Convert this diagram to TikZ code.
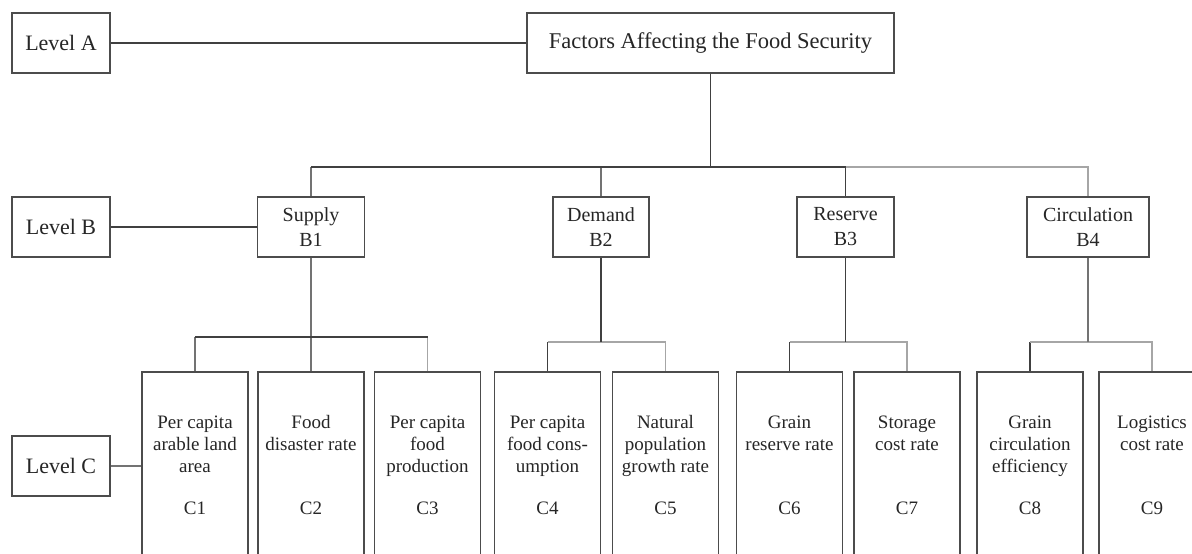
\documentclass[tikz,border=0pt]{standalone}
\usepackage{fontspec}
\setmainfont{Liberation Serif}
\begin{document}
\begin{tikzpicture}[x=1pt,y=-1pt,
  box/.style={draw=black!70, line width=1.6pt, fill=white, inner sep=0pt, text=black!85},
  lvl/.style={box, minimum width=98pt, minimum height=60pt, font=\fontsize{22}{26}\selectfont},
  bbox/.style={box, minimum height=60pt, align=center, font=\fontsize{20}{25}\selectfont},
  cbox/.style={box, minimum width=106pt, minimum height=188pt},
  ctext/.style={anchor=north, align=center, inner sep=0pt, font=\fontsize{19}{22}\selectfont, text=black!85},
  cid/.style={inner sep=0pt, font=\fontsize{19}{22}\selectfont, text=black!85},
  lnD/.style={draw=black!75, line width=1.8pt},
  lnM/.style={draw=black!55, line width=1.8pt},
  lnL/.style={draw=black!35, line width=1.8pt}]
\useasboundingbox (0,0) rectangle (1192,554);
\fill[white] (0,0) rectangle (1192,554);
\clip (0,0) rectangle (1192,554);

% level labels
\node[lvl] (la) at (61,43) {Level A};
\node[lvl] (lb) at (61,227) {Level B};
\node[lvl] (lc) at (61,466) {Level C};

% goal
\node[box, minimum width=367pt, minimum height=60pt, font=\fontsize{22.5}{27}\selectfont] (title) at (710.5,43) {Factors Affecting the Food Security};

% criteria
\node[bbox, minimum width=107pt] (b1) at (311,227) {Supply\\B1};
\node[bbox, minimum width=96pt] (b2) at (601,227) {Demand\\B2};
\node[bbox, minimum width=97pt] (b3) at (845.5,227) {Reserve\\B3};
\node[bbox, minimum width=122pt] (b4) at (1088,227) {Circulation\\B4};

% indicator boxes
\node[cbox] (c1) at (195,466) {};
\node[cbox] (c2) at (311,466) {};
\node[cbox] (c3) at (427.5,466) {};
\node[cbox] (c4) at (547.5,466) {};
\node[cbox] (c5) at (665.5,466) {};
\node[cbox] (c6) at (789.5,466) {};
\node[cbox] (c7) at (907,466) {};
\node[cbox] (c8) at (1030,466) {};
\node[cbox] (c9) at (1152,466) {};

\node[ctext] (c1t) at (195,412.6) {\strut Per capita\\arable land\\area};
\node[ctext] (c2t) at (311,412.6) {\strut Food\\disaster rate};
\node[ctext] (c3t) at (427.5,412.6) {\strut Per capita\\food\\production};
\node[ctext] (c4t) at (547.5,412.6) {\strut Per capita\\food cons-\\umption};
\node[ctext] (c5t) at (665.5,412.6) {\strut Natural\\population\\growth rate};
\node[ctext] (c6t) at (789.5,412.6) {\strut Grain\\reserve rate};
\node[ctext] (c7t) at (907,412.6) {\strut Storage\\cost rate};
\node[ctext] (c8t) at (1030,412.6) {\strut Grain\\circulation\\efficiency};
\node[ctext] (c9t) at (1152,412.6) {\strut Logistics\\cost rate};

\node[cid] (c1i) at (195,508) {C1};
\node[cid] (c2i) at (311,508) {C2};
\node[cid] (c3i) at (427.5,508) {C3};
\node[cid] (c4i) at (547.5,508) {C4};
\node[cid] (c5i) at (665.5,508) {C5};
\node[cid] (c6i) at (789.5,508) {C6};
\node[cid] (c7i) at (907,508) {C7};
\node[cid] (c8i) at (1030,508) {C8};
\node[cid] (c9i) at (1152,508) {C9};

% connectors
\coordinate (bus) at (0,167);
\coordinate (subA) at (0,337);
\coordinate (subB) at (0,342);

\draw[lnD] (la) -- (title);
\draw[lnD] (lb) -- (b1);
\draw[lnM] (lc) -- (c1);

\draw[lnD] (title.south) -- (title.south |- bus);
\draw[lnM] (b1.north |- bus) -- (b1.north);
\draw[lnM] (b2.north |- bus) -- (b2.north);
\draw[lnD] (b3.north |- bus) -- (b3.north);
\draw[lnL] (b3.north |- bus) -- (b4.north |- bus) -- (b4.north);
\draw[lnD] (b1.north |- bus) -- (b3.north |- bus);

% supply group
\draw[lnM] (b1) -- (c2);
\draw[lnM] (c1.north) -- (c1.north |- subA);
\draw[lnL] (c3.north) -- (c3.north |- subA);
\draw[lnD] (c1.north |- subA) -- (c3.north |- subA);

% demand group
\draw[lnD] (c4.north) -- (c4.north |- subB);
\draw[lnL] (c4.north |- subB) -- (c5.north |- subB) -- (c5.north);
\draw[lnD] (b2.south) -- (b2.south |- subB);

% reserve group
\draw[lnD] (c6.north) -- (c6.north |- subB);
\draw[lnL] (c6.north |- subB) -- (c7.north |- subB) -- (c7.north);
\draw[lnD] (b3.south) -- (b3.south |- subB);

% circulation group
\draw[lnD] (c8.north) -- (c8.north |- subB);
\draw[lnL] (c8.north |- subB) -- (c9.north |- subB) -- (c9.north);
\draw[lnM] (b4.south) -- (b4.south |- subB);
\end{tikzpicture}
\end{document}
